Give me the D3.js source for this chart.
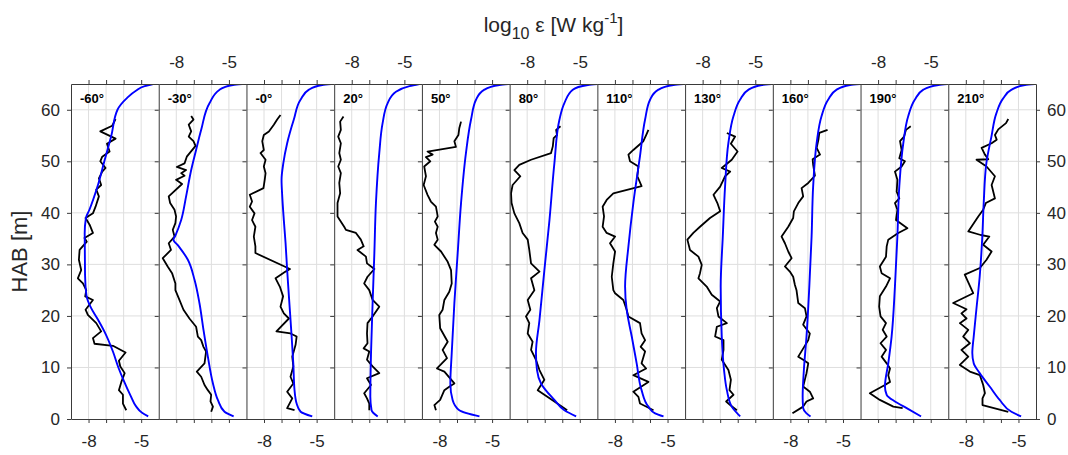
<!DOCTYPE html>
<html>
<head>
<meta charset="utf-8">
<script src="https://cdn.jsdelivr.net/npm/d3@7"></script>
<style>
  html, body { margin: 0; padding: 0; background: #fff; }
  svg { display: block; }
</style>
</head>
<body>
<svg id="chart" width="1068" height="455"></svg>
<script>
// Dissipation-rate profiles: observed (black) and modelled (blue), one panel per phase.
const panelLabels = ['-60°', '-30°', '-0°', '20°', '50°', '80°', '110°', '130°', '160°', '190°', '210°'];
const xTicks = [-8, -7, -6, -5];
const xTickLabels = [-8, -5];
const yTicks = [0, 10, 20, 30, 40, 50, 60];

// [log10 eps, HAB m]
const obsM60 = [[-6.46,58.2],[-6.65,56.9],[-7.33,55.8],[-6.70,54.8],[-6.46,54.4],[-6.95,53.4],[-6.80,51.9],[-7.22,50.9],[-7.33,50.0],[-7.03,48.7],[-7.22,48.0],[-7.41,46.7],[-7.28,45.4],[-7.56,44.5],[-7.41,43.2],[-7.60,41.2],[-7.75,39.9],[-8.17,39.0],[-7.94,37.7],[-7.75,36.1],[-8.23,35.1],[-8.10,34.4],[-8.51,32.8],[-8.55,30.9],[-8.42,28.9],[-8.61,27.3],[-8.32,26.3],[-8.13,25.0],[-8.19,23.8],[-7.75,23.1],[-8.17,21.2],[-8.04,20.2],[-7.56,18.6],[-7.28,17.0],[-7.75,15.7],[-7.66,14.6],[-6.61,14.2],[-5.89,12.9],[-6.27,11.3],[-6.19,10.2],[-5.94,8.9],[-6.13,7.2],[-6.27,5.6],[-6.04,4.7],[-6.04,3.0],[-5.85,1.7]];
const modM60 = [[-4.32,65],[-4.8,64.6],[-5.3,63.7],[-5.8,62.3],[-6.35,60],[-6.7,55],[-7.1,50],[-7.5,45],[-7.95,40.6],[-8.15,39],[-8.22,36],[-8.2,28],[-8.12,24],[-7.85,21.5],[-7.5,19.5],[-7.1,17],[-6.6,13],[-6.3,10],[-6.0,7.5],[-5.6,4.5],[-5.3,2.5],[-4.95,1.2],[-4.6,0.5]];

const obsM30 = [[-7.15,58.8],[-7.02,58.1],[-7.29,57.1],[-7.15,55.8],[-7.29,54.8],[-7.02,53.9],[-6.90,53.0],[-7.40,50.9],[-7.53,49.6],[-7.97,48.9],[-7.44,48.3],[-7.72,47.7],[-7.53,47.2],[-8.01,46.4],[-7.67,45.6],[-8.43,43.2],[-8.35,41.9],[-8.10,40.6],[-8.01,39.3],[-8.05,38.0],[-8.20,36.7],[-8.10,35.4],[-8.43,34.1],[-8.30,32.8],[-8.77,31.2],[-8.49,29.6],[-8.24,28.3],[-8.05,26.3],[-8.05,25.0],[-7.82,23.1],[-7.59,21.2],[-7.25,19.5],[-6.87,17.9],[-6.77,16.0],[-6.58,15.3],[-6.45,14.0],[-6.30,13.1],[-6.39,10.8],[-6.83,9.2],[-6.58,8.2],[-6.39,6.6],[-6.20,5.6],[-6.01,4.7],[-6.05,3.4],[-5.91,2.4],[-6.01,1.4]];
const modM30 = [[-4.24,65],[-4.77,64.8],[-5.53,63.9],[-6.10,61.3],[-6.58,56.1],[-6.87,52.2],[-7.15,48.3],[-7.44,43.2],[-7.72,38.6],[-8.05,35.6],[-8.16,34.8],[-7.88,33.6],[-7.34,30.9],[-6.96,27.0],[-6.68,22.5],[-6.45,17.3],[-6.20,12.1],[-5.91,6.9],[-5.63,3.7],[-5.25,1.4],[-4.73,0.5]];

const obsM0 = [[-7.06,59.0],[-7.25,58.1],[-7.44,57.1],[-7.72,55.8],[-8.01,55.1],[-8.10,53.9],[-8.01,52.2],[-8.20,51.6],[-7.91,50.3],[-8.01,49.0],[-7.91,47.7],[-7.96,46.4],[-8.03,44.8],[-8.81,43.5],[-8.68,42.2],[-8.81,41.2],[-8.54,39.9],[-8.68,38.6],[-8.49,37.3],[-8.58,35.4],[-8.49,33.5],[-8.49,32.2],[-6.52,29.1],[-6.77,28.6],[-7.34,27.3],[-7.10,25.7],[-6.91,23.8],[-7.06,21.8],[-6.87,20.5],[-6.58,19.5],[-7.29,17.0],[-6.49,16.6],[-6.14,16.0],[-6.20,14.4],[-6.39,12.1],[-6.33,10.2],[-6.49,8.2],[-6.33,6.9],[-6.68,5.3],[-6.39,4.0],[-6.68,2.1],[-6.26,1.7]];
const modM0 = [[-4.16,65],[-4.68,64.8],[-5.44,63.9],[-5.91,62.0],[-6.30,58.1],[-6.68,53.5],[-6.90,49.6],[-7.00,46.4],[-6.96,43.2],[-6.87,38.6],[-6.77,34.1],[-6.68,28.9],[-6.58,23.8],[-6.45,17.3],[-6.33,10.8],[-6.26,5.6],[-6.14,3.0],[-5.91,1.4],[-5.25,0.5]];

const obsP20 = [[-8.47,58.7],[-8.66,57.7],[-8.62,56.1],[-8.77,54.8],[-8.62,53.5],[-8.71,51.6],[-8.62,50.3],[-8.77,49.0],[-8.62,47.7],[-8.71,45.8],[-8.66,43.8],[-8.81,41.9],[-8.81,39.3],[-8.43,37.3],[-8.33,36.7],[-7.76,36.1],[-7.48,34.8],[-7.32,33.5],[-7.67,32.8],[-7.19,31.5],[-7.13,30.2],[-6.71,29.1],[-7.10,27.6],[-7.29,26.3],[-7.00,25.0],[-6.81,23.1],[-6.43,21.8],[-6.81,19.9],[-7.10,18.6],[-7.13,16.6],[-7.10,14.7],[-7.32,13.7],[-7.00,13.1],[-7.13,11.5],[-6.81,10.2],[-6.43,8.9],[-7.13,7.9],[-6.90,6.6],[-7.29,5.0],[-7.13,4.0],[-7.00,3.0],[-7.00,1.7]];
const modP20 = [[-4.14,65],[-4.71,64.6],[-5.48,63.5],[-5.95,61.3],[-6.24,57.4],[-6.43,51.6],[-6.62,41.9],[-6.71,32.2],[-6.81,22.5],[-6.90,12.8],[-6.94,4.3],[-6.87,1.7],[-6.52,0.5]];

const obsP50 = [[-6.77,57.7],[-6.87,56.4],[-6.92,55.1],[-7.15,53.9],[-7.06,52.8],[-8.68,51.9],[-8.39,51.3],[-8.77,50.8],[-8.52,50.0],[-8.87,49.0],[-8.77,47.1],[-8.90,45.4],[-8.68,43.5],[-8.49,42.2],[-8.20,41.2],[-8.10,39.3],[-8.26,38.3],[-8.10,37.3],[-8.20,36.1],[-8.10,34.8],[-8.29,33.8],[-7.91,32.5],[-7.53,30.5],[-7.34,28.9],[-7.30,26.3],[-7.44,24.7],[-7.72,23.1],[-7.82,21.2],[-8.01,20.2],[-7.96,17.6],[-7.53,15.0],[-7.82,13.4],[-7.57,11.8],[-8.14,9.8],[-7.72,9.2],[-7.15,6.9],[-7.38,6.4],[-7.72,5.6],[-7.96,3.7],[-8.29,2.7],[-8.20,1.7]];
const modP50 = [[-4.07,65],[-4.58,64.8],[-5.44,63.9],[-5.91,62.0],[-6.20,58.1],[-6.49,51.6],[-6.77,41.9],[-6.96,32.2],[-7.15,22.5],[-7.30,12.8],[-7.38,6.9],[-7.25,3.7],[-6.87,1.7],[-5.72,0.5]];

const obsP80 = [[-6.10,56.8],[-6.35,56.1],[-6.30,55.1],[-6.49,54.5],[-6.54,52.9],[-6.64,51.6],[-7.78,50.3],[-8.45,49.3],[-8.73,48.3],[-8.39,47.1],[-8.83,45.4],[-8.92,43.8],[-8.89,41.9],[-8.73,39.9],[-8.45,38.0],[-8.26,36.1],[-7.97,34.8],[-7.88,32.8],[-7.78,30.2],[-7.30,28.6],[-7.78,27.3],[-7.59,25.0],[-7.97,23.1],[-7.82,21.2],[-8.07,19.9],[-7.88,18.6],[-7.97,16.6],[-7.69,15.0],[-7.78,13.4],[-7.50,11.5],[-7.30,9.5],[-7.02,7.6],[-7.40,5.6],[-7.02,4.7],[-6.45,3.4],[-5.72,1.7]];
const modP80 = [[-4.01,65],[-4.54,64.8],[-5.40,63.9],[-5.88,61.3],[-6.16,58.1],[-6.45,49.6],[-6.73,38.6],[-7.02,28.9],[-7.30,19.2],[-7.50,12.8],[-7.44,9.5],[-7.21,6.9],[-6.45,3.7],[-5.88,1.7],[-5.21,0.5]];

const obsP110 = [[-6.09,56.1],[-6.22,55.1],[-6.38,53.9],[-6.95,52.2],[-7.23,51.3],[-7.14,50.0],[-6.66,49.0],[-6.72,47.1],[-6.48,45.2],[-8.09,43.8],[-8.47,42.5],[-8.70,41.2],[-8.62,39.3],[-8.70,37.3],[-8.47,36.1],[-7.99,35.4],[-8.28,34.1],[-7.99,32.5],[-8.09,30.2],[-8.18,27.6],[-8.09,25.0],[-7.99,24.4],[-7.52,23.1],[-7.33,21.2],[-7.23,19.9],[-6.57,18.6],[-6.48,16.6],[-6.28,15.3],[-6.53,14.0],[-6.28,13.1],[-6.48,10.8],[-6.22,9.8],[-6.95,8.5],[-6.09,7.2],[-6.95,5.3],[-6.66,4.3],[-6.57,3.0],[-5.80,1.7]];
const modP110 = [[-4.09,65],[-4.66,64.8],[-5.52,63.9],[-5.99,62.0],[-6.28,58.1],[-6.57,51.0],[-6.95,41.9],[-7.23,33.5],[-7.42,25.7],[-7.33,21.2],[-7.04,16.0],[-6.76,10.8],[-6.48,5.6],[-6.09,2.4],[-5.71,1.1],[-5.23,0.5]];

const obsP130 = [[-6.62,55.5],[-6.15,54.8],[-6.39,53.4],[-6.01,51.9],[-6.34,50.3],[-6.91,48.7],[-6.43,48.0],[-6.72,47.1],[-7.00,45.1],[-7.38,43.5],[-7.16,41.9],[-7.00,40.3],[-7.58,39.0],[-8.15,37.3],[-8.53,36.1],[-8.87,34.8],[-8.72,32.8],[-8.24,31.5],[-8.05,29.9],[-8.15,28.3],[-8.24,27.3],[-7.77,25.7],[-7.48,24.1],[-7.00,22.8],[-7.19,21.5],[-7.10,19.9],[-6.62,18.6],[-7.19,17.9],[-7.29,16.0],[-6.81,15.3],[-6.81,13.4],[-6.91,11.5],[-6.53,9.5],[-6.39,7.6],[-6.47,5.6],[-6.24,4.7],[-6.66,3.4],[-6.43,2.7],[-6.05,1.7]];
const modP130 = [[-4.05,65],[-4.62,64.8],[-5.38,63.9],[-5.86,62.0],[-6.24,58.8],[-6.53,53.6],[-6.72,45.2],[-6.85,35.5],[-6.97,25.7],[-6.91,16.0],[-6.78,9.5],[-6.62,5.6],[-6.34,2.4],[-5.86,0.5]];

const obsP160 = [[-5.88,56.1],[-6.35,55.5],[-6.40,54.2],[-6.50,52.6],[-6.31,51.3],[-6.73,50.4],[-6.70,49.3],[-6.60,47.2],[-6.98,45.8],[-7.36,44.8],[-7.27,43.2],[-7.55,41.9],[-7.80,40.3],[-7.84,39.0],[-8.12,37.3],[-8.50,35.4],[-8.31,34.1],[-8.12,32.5],[-7.93,31.2],[-8.31,29.6],[-8.03,28.6],[-7.84,27.6],[-7.74,26.0],[-7.65,25.0],[-7.55,22.5],[-7.17,21.5],[-7.08,19.9],[-7.27,18.3],[-6.89,16.6],[-6.98,15.3],[-7.55,12.1],[-7.27,11.5],[-6.98,10.8],[-7.08,8.9],[-7.27,6.3],[-6.89,5.3],[-6.70,4.0],[-7.08,3.4],[-7.27,2.4],[-7.88,1.1]];
const modP160 = [[-4.03,65],[-4.60,64.8],[-5.36,63.9],[-5.84,62.0],[-6.22,58.8],[-6.50,53.6],[-6.70,45.2],[-6.79,35.4],[-6.92,25.7],[-7.08,16.0],[-7.23,9.5],[-7.30,4.3],[-7.27,2.1],[-7.08,1.1],[-6.85,0.5]];

const obsP190 = [[-6.14,56.8],[-6.41,56.1],[-6.52,54.8],[-6.75,53.9],[-6.66,52.2],[-6.79,50.6],[-6.47,50.0],[-6.66,49.0],[-7.04,48.0],[-6.90,46.4],[-6.94,44.1],[-6.79,42.8],[-7.04,41.9],[-6.90,40.6],[-6.98,38.6],[-6.33,37.0],[-6.85,36.1],[-7.42,34.8],[-7.51,33.5],[-7.55,31.5],[-7.90,29.6],[-7.80,28.3],[-7.32,27.3],[-7.55,25.7],[-7.90,23.8],[-7.94,21.8],[-7.86,19.9],[-7.55,18.6],[-7.74,17.3],[-7.51,16.0],[-7.86,14.7],[-7.55,13.4],[-7.80,12.1],[-7.51,10.8],[-7.32,9.8],[-7.42,8.5],[-7.32,7.2],[-7.61,6.6],[-8.47,5.0],[-7.90,3.7],[-7.13,2.4],[-6.60,2.1]];
const modP190 = [[-4.05,65],[-4.56,64.8],[-5.42,63.9],[-5.90,62.0],[-6.28,58.8],[-6.56,53.6],[-6.79,45.2],[-6.90,35.4],[-7.04,25.7],[-7.23,16.0],[-7.42,10.8],[-7.61,6.3],[-7.51,4.7],[-7.04,3.4],[-6.37,2.1],[-5.55,0.5]];

const obsP210 = [[-5.58,58.2],[-5.71,57.4],[-6.15,56.2],[-6.34,55.1],[-6.24,54.2],[-6.53,53.5],[-7.10,52.6],[-6.91,51.3],[-6.72,50.4],[-7.39,50.3],[-6.82,49.0],[-6.34,47.1],[-6.53,45.4],[-6.34,42.8],[-6.86,41.9],[-7.01,40.6],[-7.29,39.3],[-7.86,36.4],[-7.15,35.7],[-6.66,35.4],[-7.01,33.8],[-6.53,32.5],[-6.82,30.9],[-7.20,29.3],[-8.06,28.0],[-7.58,24.4],[-8.72,22.5],[-7.96,21.3],[-8.25,20.5],[-7.96,19.5],[-8.34,18.6],[-7.86,17.3],[-8.15,16.0],[-7.77,14.7],[-8.25,13.4],[-7.86,12.1],[-8.34,10.5],[-7.77,9.2],[-7.20,8.5],[-7.01,6.6],[-6.91,5.0],[-7.05,4.0],[-7.05,2.7],[-5.58,1.4]];
const modP210 = [[-4.06,65],[-4.63,64.8],[-5.39,63.9],[-5.87,62.2],[-6.26,59.3],[-6.54,54.8],[-6.83,49.6],[-6.98,41.9],[-7.06,35.4],[-7.21,27.6],[-7.40,21.2],[-7.55,16.0],[-7.63,12.8],[-7.55,10.8],[-7.21,8.9],[-6.64,6.3],[-6.07,3.7],[-5.40,1.4],[-4.85,0.5]];

const observed = [obsM60, obsM30, obsM0, obsP20, obsP50, obsP80, obsP110, obsP130, obsP160, obsP190, obsP210];
const modelled = [modM60, modM30, modM0, modP20, modP50, modP80, modP110, modP130, modP160, modP190, modP210];

// ---- layout ----
const W = 1068, H = 455;
const plotLeft = 71, plotRight = 1036, plotTop = 84, plotBottom = 419;
const nPanels = panelLabels.length;
const pw = (plotRight - plotLeft) / nPanels;
const FONT = '"Liberation Sans", Arial, Helvetica, sans-serif';
const AXIS_COLOR = '#3a3a3a';
const TEXT_COLOR = '#262626';
const GRID_COLOR = '#dedede';

const svg = d3.select('#chart');
svg.append('rect').attr('width', W).attr('height', H).attr('fill', '#fff');

const y = d3.scaleLinear().domain([0, 65]).range([plotBottom, plotTop]);

function styleAxis(g) {
  g.selectAll('.domain').attr('stroke', AXIS_COLOR).attr('stroke-width', 1);
  g.selectAll('.tick line').attr('stroke', AXIS_COLOR).attr('stroke-width', 1);
  g.selectAll('.tick text').attr('fill', TEXT_COLOR).attr('font-family', FONT).attr('font-size', 17);
}

const defs = svg.append('defs');

panelLabels.forEach((label, i) => {
  const x0 = plotLeft + i * pw;
  const x = d3.scaleLinear().domain([-9, -4]).range([x0, x0 + pw]);
  const g = svg.append('g');

  // grid
  g.append('g').selectAll('line.vg').data(xTicks).join('line')
    .attr('x1', d => x(d)).attr('x2', d => x(d))
    .attr('y1', plotTop).attr('y2', plotBottom)
    .attr('stroke', GRID_COLOR).attr('stroke-width', 1);
  g.append('g').selectAll('line.hg').data(yTicks.filter(v => v > 0)).join('line')
    .attr('x1', x0).attr('x2', x0 + pw)
    .attr('y1', d => y(d)).attr('y2', d => y(d))
    .attr('stroke', GRID_COLOR).attr('stroke-width', 1);

  // clip to the panel
  const clipId = 'clip' + i;
  defs.append('clipPath').attr('id', clipId)
    .append('rect').attr('x', x0).attr('y', plotTop).attr('width', pw).attr('height', plotBottom - plotTop);

  const lineObs = d3.line().x(d => x(d[0])).y(d => y(d[1]));
  const lineMod = d3.line().x(d => x(d[0])).y(d => y(d[1])).curve(d3.curveMonotoneY);

  const lines = g.append('g').attr('clip-path', `url(#${clipId})`);
  lines.append('path').datum(observed[i])
    .attr('d', lineObs).attr('fill', 'none')
    .attr('stroke', '#000').attr('stroke-width', 1.8).attr('stroke-linejoin', 'round');
  lines.append('path').datum(modelled[i].slice().sort((a, b) => a[1] - b[1]))
    .attr('d', lineMod).attr('fill', 'none')
    .attr('stroke', '#0000ff').attr('stroke-width', 1.9);

  // axes
  const showBottom = i % 2 === 0;
  const fmtX = show => d => (show && xTickLabels.includes(d)) ? String(d) : '';
  const bottom = g.append('g').attr('transform', `translate(0,${plotBottom})`)
    .call(d3.axisBottom(x).tickValues(xTicks).tickSize(4).tickSizeOuter(0).tickPadding(12).tickFormat(fmtX(showBottom)));
  styleAxis(bottom);
  const top = g.append('g').attr('transform', `translate(0,${plotTop})`)
    .call(d3.axisTop(x).tickValues(xTicks).tickSize(4).tickSizeOuter(0).tickPadding(12).tickFormat(fmtX(!showBottom)));
  styleAxis(top);
  const left = g.append('g').attr('transform', `translate(${x0},0)`)
    .call(d3.axisLeft(y).tickValues(yTicks).tickSize(4).tickSizeOuter(0).tickPadding(7)
      .tickFormat(d => i === 0 ? String(d) : ''));
  styleAxis(left);
  if (i === nPanels - 1) {
    const right = g.append('g').attr('transform', `translate(${x0 + pw},0)`)
      .call(d3.axisRight(y).tickValues(yTicks).tickSize(4).tickSizeOuter(0).tickPadding(7).tickFormat(d => String(d)));
    styleAxis(right);
  }

  // panel label
  g.append('text')
    .attr('x', x0 + 9).attr('y', plotTop + 19)
    .attr('font-family', FONT).attr('font-size', 13).attr('font-weight', 'bold')
    .attr('fill', '#000')
    .text(label);
});

// x-axis title
const title = svg.append('text')
  .attr('x', (plotLeft + plotRight) / 2).attr('y', 32)
  .attr('text-anchor', 'middle')
  .attr('font-family', FONT).attr('font-size', 21).attr('fill', TEXT_COLOR);
title.append('tspan').text('log');
title.append('tspan').attr('font-size', 16).attr('dy', 7).text('10');
title.append('tspan').attr('dy', -7).text(' ε [W kg');
title.append('tspan').attr('font-size', 15).attr('dy', -9).text('-1');
title.append('tspan').attr('dy', 9).text(']');

// y-axis title
svg.append('text')
  .attr('transform', `translate(27,${(plotTop + plotBottom) / 2}) rotate(-90)`)
  .attr('text-anchor', 'middle')
  .attr('font-family', FONT).attr('font-size', 22).attr('fill', TEXT_COLOR)
  .text('HAB [m]');
</script>
</body>
</html>
